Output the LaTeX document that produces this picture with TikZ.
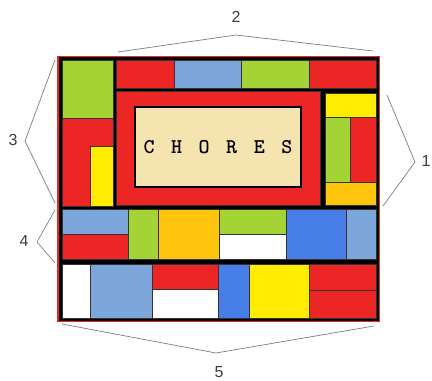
\documentclass[tikz,border=0pt]{standalone}
\usepackage{fontspec}
\setsansfont{Liberation Sans}
\usepackage{tikz}
\usetikzlibrary{positioning,calc}
\definecolor{quiltred}{RGB}{236,38,36}
\definecolor{quiltgreen}{RGB}{163,211,52}
\definecolor{quiltsky}{RGB}{124,166,218}
\definecolor{quiltblue}{RGB}{72,126,232}
\definecolor{quiltyellow}{RGB}{255,236,0}
\definecolor{quiltgold}{RGB}{255,196,12}
\definecolor{quiltbeige}{RGB}{246,228,176}
\definecolor{bracecolor}{RGB}{125,125,125}
\definecolor{labelcolor}{RGB}{60,60,60}
\newcommand{\widespaces}{\spaceskip=16.5pt\relax}
\tikzset{
  patch/.style={draw=black!80, line width=0.5pt},
  bracket/.style={draw=bracecolor, line width=0.7pt},
  partlabel/.style={font=\sffamily\fontsize{16}{16}\selectfont, text=labelcolor, inner sep=0pt},
  titlebox/.style={
    draw=black, line width=2.5pt, fill=quiltbeige,
    minimum width=166pt, minimum height=80pt, inner sep=0pt,
    font=\ttfamily\bfseries\fontsize{21}{21}\selectfont
  }
}
\begin{document}
\begin{tikzpicture}[x=1pt, y=-1pt]
  \useasboundingbox (0,0) rectangle (432,381);

  % Frame
  \fill[black] (59,57) rectangle (379,321);
  \draw[quiltred, line width=1.2pt] (58,56.5) rectangle (379.5,321.5);

  % Cells: colour / x1 / y1 / x2 / y2
  \foreach \c/\xa/\ya/\xb/\yb in {
      quiltgreen/62/60/113/118, quiltred/62/118/113/206, quiltyellow/90/146/113/206,
      quiltred/116/60/174/88, quiltsky/174/60/241/88, quiltgreen/241/60/309/88, quiltred/309/60/376/88,
      quiltred/116/91/320/205,
      quiltyellow/325/93/376/117, quiltgreen/325/117/350/182, quiltred/350/117/376/182, quiltgold/325/182/376/205,
      quiltsky/62/209/128/234, quiltred/62/234/128/259, quiltgreen/128/209/158/259, quiltgold/158/209/219/259,
      quiltgreen/219/209/286/234, white/219/234/286/259, quiltblue/286/209/346/259, quiltsky/346/209/376/259,
      white/62/264/90/318, quiltsky/90/264/152/318, quiltred/152/264/218/289, white/152/289/218/318,
      quiltblue/218/264/249/318, quiltyellow/249/264/309/318, quiltred/309/264/376/290, quiltred/309/290/376/318}
    \draw[patch, fill=\c] (\xa,\ya) rectangle (\xb,\yb);

  % Title
  \node[titlebox] (title) at (218,147) {\widespaces C H O R E S};

  % Labels
  \node[partlabel] (one) at (426,161) {1};
  \node[partlabel] (two) at (236,17) {2};
  \node[partlabel] (three) at (13,140) {3};
  \node[partlabel] (four) at (24,241) {4};
  \node[partlabel] (five) at (219,372) {5};

  % Brackets
  \coordinate (oneA) at (387,95);   \coordinate (oneB) at (415,162);  \coordinate (oneC) at (383,206);
  \coordinate (twoA) at (118,52);   \coordinate (twoB) at (236,35);   \coordinate (twoC) at (373,51);
  \coordinate (threeA) at (55,60);  \coordinate (threeB) at (25,141); \coordinate (threeC) at (55,203);
  \coordinate (fourA) at (55,210);  \coordinate (fourB) at (37,242);  \coordinate (fourC) at (55,263);
  \coordinate (fiveA) at (62,324);  \coordinate (fiveB) at (216,353); \coordinate (fiveC) at (374,326);
  \draw[bracket] (oneA) -- (oneB) -- (oneC);
  \draw[bracket] (twoA) -- (twoB) -- (twoC);
  \draw[bracket] (threeA) -- (threeB) -- (threeC);
  \draw[bracket] (fourA) -- (fourB) -- (fourC);
  \draw[bracket] (fiveA) -- (fiveB) -- (fiveC);
\end{tikzpicture}
\end{document}
